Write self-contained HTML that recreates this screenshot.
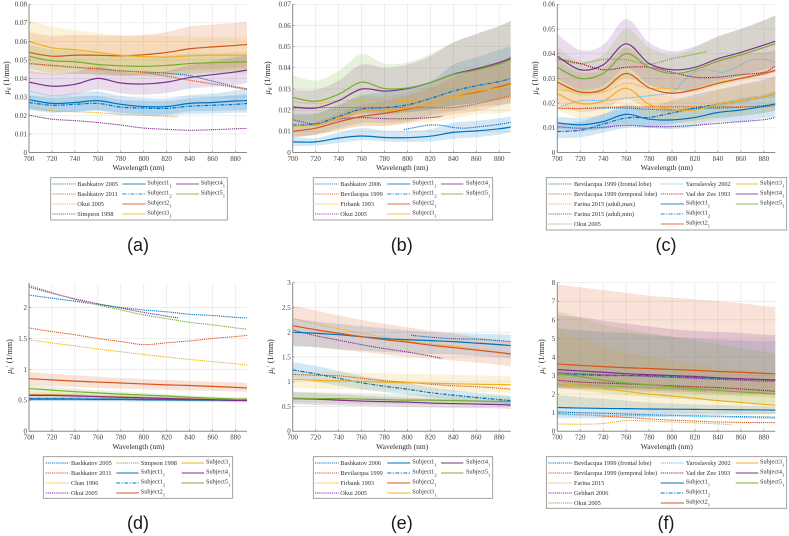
<!DOCTYPE html>
<html lang="en">
<head>
<meta charset="utf-8">
<title>Optical properties vs wavelength</title>
<style>
html,body{margin:0;padding:0;background:#fff;}
svg{display:block;filter:blur(0.35px);}
text{font-family:"Liberation Serif",serif;}
</style>
</head>
<body>
<svg id="fig" xmlns="http://www.w3.org/2000/svg" width="789" height="536" viewBox="0 0 789 536"></svg>
<script>
/* ---------- shared categories ---------- */
const wl = [700,720,740,760,780,800,820,840,860,880,890];
const wlTo830 = [700,720,740,760,780,800,820,830];
const xTicks = [700,720,740,760,780,800,820,840,860,880];

/* ---------- panel a ---------- */
const aYTicks = [0,0.01,0.02,0.03,0.04,0.05,0.06,0.07,0.08];
const aBashkatov2005 = [.048,.047,.046,.0452,.044,.0435,.0428,.0415,.0385,.0355,.0345];
const aBashkatov2011 = [.048,.047,.046,.0452,.0442,.0432,.0412,.039,.037,.035,.034];
const aOkui2005 = [.025,.0225,.022,.0215,.0205,.02,.0195,.0192];
const aSimpson1998 = [.0202,.018,.0172,.0162,.0148,.0132,.0125,.012,.0123,.0128,.013];
const aS11 = [.0285,.0265,.027,.028,.026,.0248,.0248,.0265,.027,.0278,.028];
const aS11Hi = [.0335,.031,.032,.033,.0305,.0295,.0292,.031,.0318,.0335,.0345];
const aS11Lo = [.0235,.022,.0222,.0228,.0215,.0205,.0205,.0222,.0225,.0228,.0228];
const aS12 = [.027,.0255,.026,.0265,.0245,.024,.0238,.025,.0255,.026,.0265];
const aS12Hi = [.031,.0295,.03,.0305,.0285,.028,.0278,.0292,.03,.031,.0315];
const aS12Lo = [.023,.0215,.022,.0225,.0205,.02,.0198,.0208,.021,.0215,.0215];
const aS21 = [.054,.052,.0525,.0525,.0522,.0528,.054,.056,.057,.0578,.0583];
const aS21Hi = [.065,.063,.0635,.0632,.063,.0635,.065,.068,.069,.07,.0705];
const aS21Lo = [.043,.042,.0425,.042,.0412,.042,.043,.0445,.045,.0455,.046];
const aS31 = [.06,.0565,.0555,.054,.0525,.0518,.0515,.0522,.0525,.0525,.0525];
const aS31Hi = [.0715,.068,.066,.0645,.0632,.063,.063,.0625,.0625,.0625,.0625];
const aS31Lo = [.049,.045,.045,.0435,.042,.041,.0405,.042,.0425,.0425,.0425];
const aS41 = [.038,.0358,.0368,.04,.0375,.037,.038,.0405,.042,.0435,.0445];
const aS41Hi = [.044,.0425,.0435,.0465,.0435,.043,.044,.047,.0495,.0515,.0525];
const aS41Lo = [.033,.0305,.0315,.034,.032,.0312,.0322,.0345,.0355,.0365,.0375];
const aS51 = [.052,.0495,.049,.0475,.0468,.0465,.047,.048,.0485,.0488,.049];
const aS51Hi = [.058,.0555,.055,.053,.052,.0515,.0525,.0535,.0535,.054,.054];
const aS51Lo = [.0455,.043,.0425,.042,.0415,.0415,.0415,.0425,.0435,.044,.044];

/* ---------- panel b ---------- */
const bYTicks = [0,0.01,0.02,0.03,0.04,0.05,0.06,0.07];
const bWlBashkatov = [797,810,820,830,840,850,860,880,890];
const bBashkatov2006 = [.0108,.0122,.013,.0128,.0118,.0115,.012,.0133,.0143];
const bBevilacqua1999 = [.021,.0212,.0212,.0212,.0212,.0212,.0212,.0212,.023,.0255,.0268];
const bFirbank1993 = [.024,.0232,.0245,.0248,.025,.0245,.0245,.026,.0275,.0305,.0325];
const bOkui2005 = [.0155,.0135,.0158,.0165,.016,.016,.0165,.017];
const bS11 = [.005,.005,.0068,.0078,.0071,.007,.0077,.0095,.0102,.0112,.012];
const bS11Hi = [.0074,.0068,.0095,.0115,.0103,.0102,.011,.014,.015,.0162,.017];
const bS11Lo = [.003,.0033,.0045,.0058,.0052,.005,.0052,.0065,.0072,.0085,.0095];
const bS12 = [.013,.0135,.017,.0205,.0212,.0225,.0255,.029,.0315,.0335,.035];
const bS12Hi = [.0185,.0185,.0225,.027,.0285,.0305,.0335,.0415,.045,.0485,.05];
const bS12Lo = [.0075,.0085,.0115,.014,.014,.0145,.0175,.0195,.0215,.0225,.023];
const bS21 = [.01,.0115,.0145,.017,.0185,.0205,.023,.0265,.0285,.031,.0325];
const bS21Hi = [.0125,.0145,.0185,.0225,.0245,.027,.0305,.0355,.039,.043,.0455];
const bS21Lo = [.007,.0085,.0105,.0125,.0125,.014,.016,.018,.0195,.022,.0235];
const bS31 = [.0125,.013,.016,.0195,.0195,.021,.023,.0265,.029,.0305,.032];
const bS31Hi = [.0175,.018,.022,.0265,.0265,.0285,.032,.037,.04,.043,.0455];
const bS31Lo = [.0075,.008,.0105,.0125,.0125,.0135,.0145,.016,.018,.0185,.0195];
const bS41 = [.0215,.021,.0245,.03,.029,.0302,.033,.037,.0395,.0425,.0445];
const bS41Hi = [.0295,.0295,.034,.0415,.04,.0415,.0455,.052,.056,.0595,.0622];
const bS41Lo = [.0135,.0125,.015,.0185,.018,.019,.0205,.022,.0235,.0255,.027];
const bS51 = [.026,.0242,.0275,.0332,.0302,.0305,.033,.0368,.039,.0418,.0438];
const bS51Hi = [.0365,.034,.0385,.0465,.042,.0425,.0465,.052,.056,.06,.0622];
const bS51Lo = [.0155,.0145,.0165,.02,.0185,.019,.02,.022,.0235,.0245,.0255];

/* ---------- panel c ---------- */
const cYTicks = [0,0.01,0.02,0.03,0.04,0.05,0.06];
const cWlYaroslavsky = [700,720,740,760,780,800,810,820,830,845,860,870,880,890];
const cBevFrontal = [.018,.0178,.018,.018,.0175,.0172,.0178,.018,.0183,.019,.0195];
const cBevTemporal = [.0178,.0178,.0182,.0185,.0185,.0185,.0185,.0185,.0185,.0185,.019];
const cFarinaMax = [.0255,.0245,.0245,.028,.026,.026,.0255,.0285,.03,.0315,.033];
const cFarinaMin = [.0105,.0098,.0102,.011,.0105,.0105,.011,.0118,.0125,.0133,.0142];
const cOkui2005 = [.0375,.036,.0377,.0375,.0358,.038,.0398,.041];
const cYaroslavsky2002 = [.018,.021,.021,.022,.023,.0245,.029,.0325,.0335,.0325,.0355,.0375,.0378,.0365];
const cVanDerZee1993 = [.038,.036,.0335,.0345,.0345,.0325,.0305,.0305,.0315,.0325,.035];
const cS11 = [.012,.0112,.0125,.0155,.0135,.0132,.0142,.0162,.0172,.0187,.0197];
const cS11Hi = [.0145,.014,.0155,.0195,.017,.017,.018,.02,.022,.0235,.025];
const cS11Lo = [.0095,.0085,.0095,.0115,.01,.0095,.0105,.0125,.0125,.014,.0145];
const cS12 = [.0085,.009,.0115,.014,.0142,.016,.018,.0195,.021,.0225,.0238];
const cS12Hi = [.0115,.0125,.0155,.018,.0185,.021,.0235,.0255,.0275,.0295,.031];
const cS12Lo = [.0058,.0062,.008,.01,.0102,.0115,.013,.014,.0148,.016,.017];
const cS21 = [.0285,.0245,.0255,.032,.0262,.024,.0255,.028,.03,.032,.0333];
const cS21Hi = [.0375,.0325,.034,.0425,.035,.032,.034,.0375,.04,.0405,.0415];
const cS21Lo = [.0195,.0165,.0175,.0215,.0175,.016,.0175,.0185,.02,.022,.0222];
const cS31 = [.0238,.0198,.0208,.026,.0195,.0175,.0172,.0195,.021,.0225,.0238];
const cS31Hi = [.0305,.0255,.0265,.0335,.025,.0225,.0225,.0255,.027,.029,.0305];
const cS31Lo = [.017,.014,.015,.0185,.014,.0125,.012,.0135,.015,.016,.017];
const cS41 = [.039,.0335,.0355,.044,.036,.0335,.0345,.038,.0405,.0435,.045];
const cS41Hi = [.048,.0415,.0435,.054,.0445,.041,.043,.047,.05,.0535,.0555];
const cS41Lo = [.03,.0255,.027,.034,.0275,.0255,.026,.029,.031,.0335,.0345];
const cS51 = [.0345,.03,.032,.04,.0345,.032,.0335,.037,.0395,.0425,.044];
const cS51Hi = [.0425,.037,.0395,.05,.0425,.0395,.0425,.047,.05,.0535,.0555];
const cS51Lo = [.0265,.023,.0245,.03,.0265,.0245,.0245,.027,.029,.0315,.0325];

/* ---------- panel d ---------- */
const dYTicks = [0,0.5,1,1.5,2];
const dBashkatov2005 = [2.2,2.15,2.1,2.05,2.0,1.96,1.93,1.89,1.87,1.84,1.83];
const dBashkatov2011 = [1.67,1.61,1.56,1.5,1.45,1.4,1.43,1.46,1.5,1.53,1.55];
const dChan1996 = [1.48,1.425,1.38,1.33,1.285,1.24,1.2,1.16,1.125,1.09,1.07];
const dOkui2005 = [2.33,2.23,2.14,2.06,1.99,1.92,1.86,1.83];
const dSimpson1998 = [2.36,2.24,2.13,2.04,1.96,1.88,1.82,1.76,1.72,1.67,1.65];
const dS11 = [.52,.52,.52,.515,.515,.51,.51,.505,.505,.5,.5];
const dS11Hi = [.55,.55,.55,.545,.54,.535,.535,.53,.53,.525,.525];
const dS11Lo = [.49,.49,.49,.485,.485,.48,.48,.48,.48,.475,.475];
const dS12 = [.53,.53,.525,.52,.52,.515,.51,.51,.505,.505,.5];
const dS12Hi = [.55,.55,.545,.54,.54,.535,.53,.53,.525,.525,.52];
const dS12Lo = [.51,.51,.505,.5,.5,.495,.49,.49,.485,.485,.48];
const dS21 = [.85,.83,.81,.795,.78,.765,.75,.74,.725,.71,.7];
const dS21Hi = [.96,.93,.905,.88,.86,.845,.83,.815,.8,.79,.78];
const dS21Lo = [.74,.73,.715,.7,.69,.68,.67,.66,.65,.64,.635];
const dS31 = [.6,.59,.58,.565,.555,.545,.535,.525,.515,.505,.5];
const dS31Hi = [.64,.63,.62,.605,.59,.58,.57,.56,.55,.54,.54];
const dS31Lo = [.56,.55,.54,.525,.515,.505,.495,.485,.475,.47,.465];
const dS41 = [.58,.58,.57,.56,.55,.54,.53,.52,.51,.5,.5];
const dS41Hi = [.61,.61,.6,.585,.575,.565,.555,.545,.535,.525,.52];
const dS41Lo = [.55,.55,.54,.53,.52,.51,.5,.49,.485,.48,.48];
const dS51 = [.69,.665,.64,.62,.6,.585,.57,.55,.535,.52,.52];
const dS51Hi = [.75,.72,.69,.665,.64,.62,.6,.58,.565,.55,.55];
const dS51Lo = [.63,.61,.59,.575,.56,.55,.54,.52,.505,.49,.49];

/* ---------- panel e ---------- */
const eYTicks = [0,0.5,1,1.5,2,2.5,3];
const eWlBashkatov = [803,820,840,860,880,890];
const eBashkatov2006 = [1.94,1.9,1.87,1.86,1.83,1.81];
const eBevilacqua1999 = [1.15,1.13,1.12,1.07,1.02,.99,.95,.92,.9,.87,.85];
const eFirbank1993 = [2.28,2.17,2.07,1.98,1.9,1.82,1.77,1.72,1.66,1.6,1.56];
const eOkui2005 = [2.05,1.93,1.84,1.75,1.67,1.6,1.52,1.47];
const eS11 = [2.0,1.98,1.95,1.91,1.87,1.85,1.83,1.81,1.78,1.75,1.73];
const eS11Hi = [2.28,2.22,2.17,2.12,2.08,2.04,2.0,1.99,1.97,1.96,1.95];
const eS11Lo = [1.71,1.7,1.66,1.63,1.6,1.58,1.56,1.55,1.52,1.49,1.47];
const eS12 = [1.24,1.16,1.07,.98,.91,.85,.78,.73,.68,.64,.62];
const eS12Hi = [1.4,1.32,1.22,1.12,1.04,.97,.89,.83,.78,.74,.71];
const eS12Lo = [1.08,1.0,.92,.85,.79,.74,.68,.64,.6,.56,.54];
const eS21 = [2.13,2.05,1.98,1.91,1.85,1.8,1.74,1.69,1.64,1.59,1.56];
const eS21Hi = [2.54,2.44,2.34,2.25,2.17,2.1,2.03,1.97,1.9,1.84,1.8];
const eS21Lo = [1.74,1.7,1.65,1.6,1.55,1.5,1.47,1.43,1.39,1.34,1.31];
const eS31 = [1.05,1.03,1.02,1.01,.99,.98,.97,.96,.95,.945,.94];
const eS31Hi = [1.23,1.21,1.2,1.18,1.17,1.16,1.15,1.14,1.13,1.12,1.11];
const eS31Lo = [.87,.86,.85,.84,.83,.82,.81,.8,.79,.78,.77];
const eS41 = [.66,.65,.63,.61,.6,.59,.57,.56,.55,.54,.53];
const eS41Hi = [.79,.77,.75,.72,.7,.68,.66,.65,.63,.62,.61];
const eS41Lo = [.55,.53,.52,.51,.5,.49,.48,.47,.47,.46,.45];
const eS51 = [.67,.66,.66,.65,.64,.63,.63,.62,.61,.605,.6];
const eS51Hi = [.8,.79,.78,.77,.76,.75,.74,.73,.72,.71,.7];
const eS51Lo = [.58,.57,.56,.55,.55,.54,.53,.53,.52,.51,.51];

/* ---------- panel f ---------- */
const fYTicks = [0,1,2,3,4,5,6,7,8];
const fWlFarina = [700,720,740,760,780,800,820,840,852];
const fBevFrontal = [1.05,1.0,.97,.93,.89,.86,.83,.81,.79,.77,.76];
const fBevTemporal = [.95,.9,.82,.75,.67,.6,.55,.5,.48,.47,.47];
const fFarina2015 = [.4,.38,.42,.58,.55,.5,.45,.4,.35];
const fGebhart2006 = [3.15,3.1,3.05,3.0,2.95,2.9,2.85,2.8,2.75,2.7,2.7];
const fOkui2005 = [2.55,2.5,2.45,2.4,2.35,2.3,2.2,2.15];
const fYaroslavsky2002 = [.9,.88,.86,.85,.84,.83,.8,.78,.74,.72,.7];
const fVanDerZee1993 = [2.75,2.65,2.6,2.55,2.5,2.45,2.4,2.35,2.28,2.2,2.15];
const fS11 = [1.28,1.25,1.23,1.22,1.2,1.19,1.18,1.17,1.16,1.15,1.14];
const fS11Hi = [1.95,1.85,1.75,1.65,1.55,1.5,1.45,1.42,1.38,1.35,1.33];
const fS11Lo = [.7,.7,.7,.72,.75,.8,.85,.88,.9,.92,.92];
const fS12 = [3.1,3.05,3.0,3.0,3.0,2.95,2.9,2.85,2.82,2.78,2.76];
const fS12Hi = [5.55,5.45,5.35,5.3,5.2,5.1,5.0,4.95,4.9,4.85,4.9];
const fS12Lo = [2.35,2.3,2.3,2.3,2.3,2.25,2.2,2.15,2.1,2.05,2.05];
const fS21 = [3.62,3.55,3.48,3.42,3.38,3.33,3.28,3.22,3.18,3.12,3.1];
const fS21Hi = [7.9,7.75,7.6,7.45,7.3,7.2,7.1,7.0,6.9,6.75,6.7];
const fS21Lo = [2.3,2.25,2.2,2.15,2.1,2.05,2.0,1.95,1.9,1.85,1.8];
const fS31 = [2.6,2.45,2.3,2.15,2.0,1.9,1.78,1.65,1.55,1.45,1.4];
const fS31Hi = [5.5,5.0,4.6,4.25,4.0,3.8,3.6,3.45,3.3,3.15,3.05];
const fS31Lo = [1.3,1.25,1.2,1.15,1.1,1.05,1.0,1.0,.95,.9,.9];
const fS41 = [3.32,3.25,3.18,3.1,3.05,3.0,2.95,2.88,2.83,2.78,2.76];
const fS41Hi = [6.25,6.15,5.95,5.8,5.65,5.5,5.4,5.35,5.3,5.2,5.2];
const fS41Lo = [2.4,2.35,2.3,2.25,2.2,2.15,2.1,2.05,2.0,2.0,2.0];
const fS51 = [3.1,2.95,2.75,2.6,2.5,2.4,2.3,2.2,2.12,2.05,2.0];
const fS51Hi = [6.5,6.1,5.75,5.5,5.3,5.1,4.9,4.7,4.5,4.3,4.2];
const fS51Lo = [2.3,2.2,2.05,1.95,1.85,1.75,1.7,1.62,1.55,1.5,1.45];

/* ---------- styling ---------- */
const BLUE = '#0072BD', ORANGE = '#D95319', YELLOW = '#EDB120', PURPLE = '#7E2F8E',
      GREEN = '#77AC30', CYAN = '#4DBEEE', RED = '#A2142F';
const DOT = '1.2 0.9', DASHDOT = '4 1.4 1.2 1.4';

function lit(label, color, x, v){ return {label:label, color:color, x:x, v:v}; }
function sub(base, idx, color, dash, v, hi, lo){ return {label:base, idx:idx, color:color, dash:dash, v:v, hi:hi, lo:lo}; }

const panels = [
 {id:'a', left:29, top:4.3, bottom:152.5, ymax:.08, ticks:aYTicks, sym:'a', labelX:7, cap:138,
  box:[50.7,177.7,227.3,220], strong:false, cols:[[52.3,76,77.3],[122.3,145.7,147.3],[176,199,200.7]], split:[4,4,2],
  lits:[lit('Bashkatov 2005',BLUE,wl,aBashkatov2005),lit('Bashkatov 2011',ORANGE,wl,aBashkatov2011),lit('Okui 2005',YELLOW,wlTo830,aOkui2005),lit('Simpson 1998',PURPLE,wl,aSimpson1998)],
  subs:[sub('Subject1','1',BLUE,'',aS11,aS11Hi,aS11Lo),sub('Subject1','2',BLUE,DASHDOT,aS12,aS12Hi,aS12Lo),sub('Subject2','1',ORANGE,'',aS21,aS21Hi,aS21Lo),sub('Subject3','1',YELLOW,'',aS31,aS31Hi,aS31Lo),sub('Subject4','1',PURPLE,'',aS41,aS41Hi,aS41Lo),sub('Subject5','1',GREEN,'',aS51,aS51Hi,aS51Lo)]},
 {id:'b', left:292.7, top:4.3, bottom:152.5, ymax:.07, ticks:bYTicks, sym:'a', labelX:268, cap:401.7,
  box:[313.3,177.7,492.7,220], strong:false, cols:[[315,338.7,340.3],[387.3,410.3,412.3],[441,463.3,466]], split:[4,4,2],
  lits:[lit('Bashkatov 2006',BLUE,bWlBashkatov,bBashkatov2006),lit('Bevilacqua 1999',ORANGE,wl,bBevilacqua1999),lit('Firbank 1993',YELLOW,wl,bFirbank1993),lit('Okui 2005',PURPLE,wlTo830,bOkui2005)],
  subs:[sub('Subject1','1',BLUE,'',bS11,bS11Hi,bS11Lo),sub('Subject1','2',BLUE,DASHDOT,bS12,bS12Hi,bS12Lo),sub('Subject2','1',ORANGE,'',bS21,bS21Hi,bS21Lo),sub('Subject3','1',YELLOW,'',bS31,bS31Hi,bS31Lo),sub('Subject4','1',PURPLE,'',bS41,bS41Hi,bS41Lo),sub('Subject5','1',GREEN,'',bS51,bS51Hi,bS51Lo)]},
 {id:'c', left:557.3, top:4.3, bottom:152.5, ymax:.06, ticks:cYTicks, sym:'a', labelX:535.7, cap:666,
  box:[546.3,177.7,786.7,230], strong:false, cols:[[548.3,572.3,574],[660.7,684,685.7],[735.7,758.3,760]], split:[5,5,3],
  lits:[lit('Bevilacqua 1999 (frontal lobe)',BLUE,wl,cBevFrontal),lit('Bevilacqua 1999 (temporal lobe)',ORANGE,wl,cBevTemporal),lit('Farina 2015 (adult,max)',YELLOW,wl,cFarinaMax),lit('Farina 2015 (adult,min)',PURPLE,wl,cFarinaMin),lit('Okui 2005',GREEN,wlTo830,cOkui2005),lit('Yaroslavsky 2002',CYAN,cWlYaroslavsky,cYaroslavsky2002),lit('Vad der Zee 1993',RED,wl,cVanDerZee1993)],
  subs:[sub('Subject1','1',BLUE,'',cS11,cS11Hi,cS11Lo),sub('Subject1','2',BLUE,DASHDOT,cS12,cS12Hi,cS12Lo),sub('Subject2','1',ORANGE,'',cS21,cS21Hi,cS21Lo),sub('Subject3','1',YELLOW,'',cS31,cS31Hi,cS31Lo),sub('Subject4','1',PURPLE,'',cS41,cS41Hi,cS41Lo),sub('Subject5','1',GREEN,'',cS51,cS51Hi,cS51Lo)]},
 {id:'d', left:29, top:282.7, bottom:431.3, ymax:2.4, ticks:dYTicks, sym:'s', labelX:10, cap:138,
  box:[43.3,456.7,232.7,498.3], strong:true, cols:[[45.7,69.3,71],[116.3,138.7,140.7],[181.7,204,206]], split:[4,4,3],
  lits:[lit('Bashkatov 2005',BLUE,wl,dBashkatov2005),lit('Bashkatov 2011',ORANGE,wl,dBashkatov2011),lit('Chan 1996',YELLOW,wl,dChan1996),lit('Okui 2005',PURPLE,wlTo830,dOkui2005),lit('Simpson 1998',GREEN,wl,dSimpson1998)],
  subs:[sub('Subject1','1',BLUE,'',dS11,dS11Hi,dS11Lo),sub('Subject1','2',BLUE,DASHDOT,dS12,dS12Hi,dS12Lo),sub('Subject2','1',ORANGE,'',dS21,dS21Hi,dS21Lo),sub('Subject3','1',YELLOW,'',dS31,dS31Hi,dS31Lo),sub('Subject4','1',PURPLE,'',dS41,dS41Hi,dS41Lo),sub('Subject5','1',GREEN,'',dS51,dS51Hi,dS51Lo)]},
 {id:'e', left:292.7, top:282.7, bottom:431.3, ymax:3, ticks:eYTicks, sym:'s', labelX:271, cap:401.7,
  box:[313.3,456.7,492.7,498.3], strong:true, cols:[[315,338.7,340.3],[387.3,410.3,412.3],[441,463.3,466]], split:[4,4,2],
  lits:[lit('Bashkatov 2006',BLUE,eWlBashkatov,eBashkatov2006),lit('Bevilacqua 1999',ORANGE,wl,eBevilacqua1999),lit('Firbank 1993',YELLOW,wl,eFirbank1993),lit('Okui 2005',PURPLE,wlTo830,eOkui2005)],
  subs:[sub('Subject1','1',BLUE,'',eS11,eS11Hi,eS11Lo),sub('Subject1','2',BLUE,DASHDOT,eS12,eS12Hi,eS12Lo),sub('Subject2','1',ORANGE,'',eS21,eS21Hi,eS21Lo),sub('Subject3','1',YELLOW,'',eS31,eS31Hi,eS31Lo),sub('Subject4','1',PURPLE,'',eS41,eS41Hi,eS41Lo),sub('Subject5','1',GREEN,'',eS51,eS51Hi,eS51Lo)]},
 {id:'f', left:557.3, top:282.7, bottom:431.3, ymax:8, ticks:fYTicks, sym:'s', labelX:542, cap:666,
  box:[546.3,456.7,786.7,508.3], strong:true, cols:[[548.3,572.3,574],[660.7,684,685.7],[735.7,758.3,760]], split:[5,5,3],
  lits:[lit('Bevilacqua 1999 (frontal lobe)',BLUE,wl,fBevFrontal),lit('Bevilacqua 1999 (temporal lobe)',ORANGE,wl,fBevTemporal),lit('Farina 2015',YELLOW,fWlFarina,fFarina2015),lit('Gebhart 2006',PURPLE,wl,fGebhart2006),lit('Okui 2005',GREEN,wlTo830,fOkui2005),lit('Yaroslavsky 2002',CYAN,wl,fYaroslavsky2002),lit('Vad der Zee 1993',RED,wl,fVanDerZee1993)],
  subs:[sub('Subject1','1',BLUE,'',fS11,fS11Hi,fS11Lo),sub('Subject1','2',BLUE,DASHDOT,fS12,fS12Hi,fS12Lo),sub('Subject2','1',ORANGE,'',fS21,fS21Hi,fS21Lo),sub('Subject3','1',YELLOW,'',fS31,fS31Hi,fS31Lo),sub('Subject4','1',PURPLE,'',fS41,fS41Hi,fS41Lo),sub('Subject5','1',GREEN,'',fS51,fS51Hi,fS51Lo)]}
];

/* ---------- drawing ---------- */
const NS = 'http://www.w3.org/2000/svg';
const root = document.getElementById('fig');
const PLOT_W = 218;

function svgEl(tag, attrs, parent){
  const el = document.createElementNS(NS, tag);
  for (const k in attrs) el.setAttribute(k, attrs[k]);
  parent.appendChild(el);
  return el;
}
function slug(s){ return s.toLowerCase().replace(/[^a-z0-9]+/g,'-').replace(/^-|-$/g,''); }
function smooth(pts){
  let d = 'M' + pts[0][0].toFixed(2) + ' ' + pts[0][1].toFixed(2);
  for (let i = 0; i < pts.length - 1; i++){
    const p0 = pts[Math.max(i-1,0)], p1 = pts[i], p2 = pts[i+1], p3 = pts[Math.min(i+2,pts.length-1)];
    d += 'C' + (p1[0]+(p2[0]-p0[0])/6).toFixed(2) + ' ' + (p1[1]+(p2[1]-p0[1])/6).toFixed(2) + ' '
       + (p2[0]-(p3[0]-p1[0])/6).toFixed(2) + ' ' + (p2[1]-(p3[1]-p1[1])/6).toFixed(2) + ' '
       + p2[0].toFixed(2) + ' ' + p2[1].toFixed(2);
  }
  return d;
}

panels.forEach(function(P){
  const xScale = function(w){ return P.left + (w - 700) / 190 * PLOT_W; };
  const yScale = function(v){ return P.bottom - v / P.ymax * (P.bottom - P.top); };
  const right = P.left + PLOT_W;
  const pts = function(xs, vs){ return vs.map(function(v,i){ return [xScale(xs[i]), yScale(v)]; }); };

  const g = svgEl('g', {}, root);
  
  

  /* grid */
  xTicks.forEach(function(t){
    if (t === 700) return;
    const ln = svgEl('line', {x1:xScale(t), x2:xScale(t), y1:P.top, y2:P.bottom, stroke:'#e7e7e7', 'stroke-width':.7}, g);
    
    
  });
  P.ticks.forEach(function(t){
    if (t === 0) return;
    const ln = svgEl('line', {x1:P.left, x2:right, y1:yScale(t), y2:yScale(t), stroke:'#e7e7e7', 'stroke-width':.7}, g);
    
    
  });

  /* bands */
  P.subs.forEach(function(s){
    const hiPts = pts(wl, s.hi);
    const loPts = pts(wl, s.lo).reverse();
    const band = svgEl('path', {d: smooth(hiPts) + 'L' + smooth(loPts).slice(1) + 'Z', fill:s.color, 'fill-opacity':.17, stroke:'none'}, g);
    
    
  });

  /* literature curves */
  P.lits.forEach(function(l){
    const line = svgEl('path', {d: smooth(pts(l.x, l.v)), fill:'none', stroke:l.color, 'stroke-width':1.1, 'stroke-dasharray':DOT}, g);
    
    
  });

  /* subject curves */
  P.subs.forEach(function(s){
    const line = svgEl('path', {d: smooth(pts(wl, s.v)), fill:'none', stroke:s.color, 'stroke-width':1.2}, g);
    if (s.dash) line.setAttribute('stroke-dasharray', s.dash);
    
    
  });

  /* axes */
  const xAxis = svgEl('line', {x1:P.left, x2:right, y1:P.bottom, y2:P.bottom, stroke:'#8a8a8a', 'stroke-width':1}, g);
  
  
  const yAxis = svgEl('line', {x1:P.left, x2:P.left, y1:P.top, y2:P.bottom, stroke:'#8a8a8a', 'stroke-width':1}, g);
  
  

  xTicks.forEach(function(t){
    const mark = svgEl('line', {x1:xScale(t), x2:xScale(t), y1:P.bottom, y2:P.bottom-2, stroke:'#8a8a8a', 'stroke-width':.7}, g);
    
    
    const lab = svgEl('text', {x:xScale(t), y:P.bottom+8.3, 'text-anchor':'middle', 'font-size':7, fill:'#404040'}, g);
    lab.textContent = String(t);
    
    
  });
  P.ticks.forEach(function(t){
    const mark = svgEl('line', {x1:P.left, x2:P.left+2, y1:yScale(t), y2:yScale(t), stroke:'#8a8a8a', 'stroke-width':.7}, g);
    
    
    const lab = svgEl('text', {x:P.left-2, y:yScale(t)+2.4, 'text-anchor':'end', 'font-size':7, fill:'#404040'}, g);
    lab.textContent = String(t);
    
    
  });

  /* axis titles */
  const xTitle = svgEl('text', {x:P.left+PLOT_W/2+0.5, y:P.bottom+17.5, 'text-anchor':'middle', 'font-size':7.5, fill:'#262626'}, g);
  xTitle.textContent = 'Wavelength (nm)';
  
  

  const cy = (P.top + P.bottom) / 2 - 0.5;
  const yTitle = svgEl('text', {transform:'translate(' + (P.labelX+2) + ' ' + cy + ') rotate(-90)', 'text-anchor':'middle', 'font-size':8, fill:'#262626'}, g);
  
  
  const mu = svgEl('tspan', {'font-style':'italic'}, yTitle);
  mu.textContent = 'μ';
  const sb = svgEl('tspan', {'font-style':'italic', 'font-size':6, dy:1.5}, yTitle);
  sb.textContent = P.sym;
  if (P.sym === 's'){
    const pr = svgEl('tspan', {dy:-3, 'font-size':6.5}, yTitle);
    pr.textContent = '\u2019';
    const rest = svgEl('tspan', {dy:1.5}, yTitle);
    rest.textContent = ' (1/mm)';
  } else {
    const rest = svgEl('tspan', {dy:-1.5}, yTitle);
    rest.textContent = ' (1/mm)';
  }

  /* legend */
  const lg = svgEl('g', {}, g);
  
  
  const frame = svgEl('rect', {x:P.box[0], y:P.box[1], width:P.box[2]-P.box[0], height:P.box[3]-P.box[1], fill:'#fff', stroke:'#8a8a8a', 'stroke-width':.8}, lg);
  
  

  const all = P.lits.concat(P.subs);
  let n = 0;
  P.cols.forEach(function(col, c){
    for (let r = 0; r < P.split[c]; r++){
      const it = all[n++];
      if (!it) continue;
      const yy = P.box[1] + 6.3 + r * 10;
      const isSub = it.idx !== undefined;
      const dash = isSub ? it.dash : DOT;
      const sample = svgEl('line', {x1:col[0], x2:col[1], y1:yy, y2:yy, stroke:it.color,
        'stroke-width': P.strong ? 1 : 1.3, 'stroke-opacity': P.strong ? 1 : .65}, lg);
      if (dash) sample.setAttribute('stroke-dasharray', dash);
      
      
      const txt = svgEl('text', {x:col[2], y: isSub ? yy + 0.7 : yy + 2, 'font-size':6.3, fill:'#303030'}, lg);
      txt.textContent = it.label;
      
      
      if (isSub){
        const ts = svgEl('tspan', {'font-size':4.6, dy:2.6}, txt);
        ts.textContent = it.idx;
      }
    }
  });

  /* caption */
  const capY = P.top < 100 ? 251 : 529;
  const cap = svgEl('text', {x:P.cap, y:capY, 'text-anchor':'middle', 'font-size':18, fill:'#1a1a1a', style:'font-family:"Liberation Sans",sans-serif'}, g);
  cap.textContent = '(' + P.id + ')';
  
  
});
</script>
</body>
</html>
